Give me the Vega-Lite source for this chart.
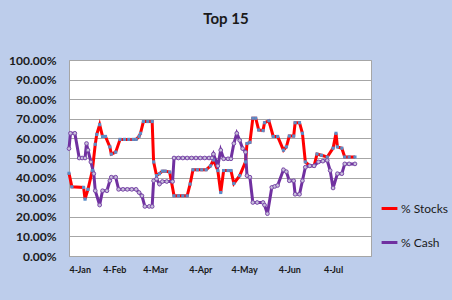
{
  "$schema": "https://vega.github.io/schema/vega-lite/v6.json",
  "width": 302,
  "height": 196,
  "autosize": "none",
  "padding": {"left": 69, "top": 60, "right": 81, "bottom": 44},
  "background": "#bdcdeb",
  "title": {"text": "Top 15", "fontSize": 15, "font": "Lato", "fontWeight": "bold", "color": "#1a1a1a", "anchor": "middle", "dx": 6, "offset": 27, "frame": "group"},
  "config": {
    "view": {"fill": "white", "stroke": "#a6a6a6", "strokeWidth": 1},
    "axis": {"labelFont": "Lato", "labelFontWeight": "bold", "labelColor": "#1a1a1a", "ticks": false, "domainColor": "#a6a6a6", "gridColor": "#a6a6a6", "title": null}
  },
  "data": {"values": [
    {"date": "2010-01-04", "series": "% Stocks", "value": 0.422},
    {"date": "2010-01-06", "series": "% Stocks", "value": 0.353},
    {"date": "2010-01-14", "series": "% Stocks", "value": 0.35},
    {"date": "2010-01-15", "series": "% Stocks", "value": 0.29},
    {"date": "2010-01-17", "series": "% Stocks", "value": 0.34},
    {"date": "2010-01-20", "series": "% Stocks", "value": 0.436},
    {"date": "2010-01-22", "series": "% Stocks", "value": 0.57},
    {"date": "2010-01-23", "series": "% Stocks", "value": 0.62},
    {"date": "2010-01-25", "series": "% Stocks", "value": 0.67},
    {"date": "2010-01-27", "series": "% Stocks", "value": 0.61},
    {"date": "2010-01-29", "series": "% Stocks", "value": 0.61},
    {"date": "2010-02-01", "series": "% Stocks", "value": 0.557},
    {"date": "2010-02-02", "series": "% Stocks", "value": 0.52},
    {"date": "2010-02-05", "series": "% Stocks", "value": 0.53},
    {"date": "2010-02-08", "series": "% Stocks", "value": 0.595},
    {"date": "2010-02-11", "series": "% Stocks", "value": 0.595},
    {"date": "2010-02-14", "series": "% Stocks", "value": 0.595},
    {"date": "2010-02-17", "series": "% Stocks", "value": 0.595},
    {"date": "2010-02-19", "series": "% Stocks", "value": 0.595},
    {"date": "2010-02-21", "series": "% Stocks", "value": 0.61},
    {"date": "2010-02-22", "series": "% Stocks", "value": 0.626},
    {"date": "2010-02-24", "series": "% Stocks", "value": 0.686},
    {"date": "2010-02-27", "series": "% Stocks", "value": 0.686},
    {"date": "2010-03-02", "series": "% Stocks", "value": 0.686},
    {"date": "2010-03-03", "series": "% Stocks", "value": 0.48},
    {"date": "2010-03-05", "series": "% Stocks", "value": 0.41},
    {"date": "2010-03-07", "series": "% Stocks", "value": 0.42},
    {"date": "2010-03-09", "series": "% Stocks", "value": 0.433},
    {"date": "2010-03-11", "series": "% Stocks", "value": 0.433},
    {"date": "2010-03-14", "series": "% Stocks", "value": 0.428},
    {"date": "2010-03-17", "series": "% Stocks", "value": 0.307},
    {"date": "2010-03-20", "series": "% Stocks", "value": 0.307},
    {"date": "2010-03-23", "series": "% Stocks", "value": 0.307},
    {"date": "2010-03-26", "series": "% Stocks", "value": 0.307},
    {"date": "2010-03-28", "series": "% Stocks", "value": 0.367},
    {"date": "2010-03-30", "series": "% Stocks", "value": 0.44},
    {"date": "2010-04-02", "series": "% Stocks", "value": 0.44},
    {"date": "2010-04-05", "series": "% Stocks", "value": 0.44},
    {"date": "2010-04-08", "series": "% Stocks", "value": 0.44},
    {"date": "2010-04-11", "series": "% Stocks", "value": 0.46},
    {"date": "2010-04-13", "series": "% Stocks", "value": 0.49},
    {"date": "2010-04-16", "series": "% Stocks", "value": 0.436},
    {"date": "2010-04-18", "series": "% Stocks", "value": 0.324},
    {"date": "2010-04-20", "series": "% Stocks", "value": 0.436},
    {"date": "2010-04-23", "series": "% Stocks", "value": 0.436},
    {"date": "2010-04-25", "series": "% Stocks", "value": 0.436},
    {"date": "2010-04-27", "series": "% Stocks", "value": 0.37},
    {"date": "2010-05-01", "series": "% Stocks", "value": 0.41},
    {"date": "2010-05-05", "series": "% Stocks", "value": 0.48},
    {"date": "2010-05-06", "series": "% Stocks", "value": 0.574},
    {"date": "2010-05-08", "series": "% Stocks", "value": 0.58},
    {"date": "2010-05-10", "series": "% Stocks", "value": 0.703},
    {"date": "2010-05-12", "series": "% Stocks", "value": 0.703},
    {"date": "2010-05-14", "series": "% Stocks", "value": 0.643},
    {"date": "2010-05-17", "series": "% Stocks", "value": 0.64},
    {"date": "2010-05-18", "series": "% Stocks", "value": 0.68},
    {"date": "2010-05-21", "series": "% Stocks", "value": 0.69},
    {"date": "2010-05-24", "series": "% Stocks", "value": 0.61},
    {"date": "2010-05-27", "series": "% Stocks", "value": 0.61},
    {"date": "2010-05-31", "series": "% Stocks", "value": 0.54},
    {"date": "2010-06-02", "series": "% Stocks", "value": 0.557},
    {"date": "2010-06-04", "series": "% Stocks", "value": 0.612},
    {"date": "2010-06-07", "series": "% Stocks", "value": 0.612},
    {"date": "2010-06-08", "series": "% Stocks", "value": 0.68},
    {"date": "2010-06-11", "series": "% Stocks", "value": 0.68},
    {"date": "2010-06-13", "series": "% Stocks", "value": 0.626},
    {"date": "2010-06-15", "series": "% Stocks", "value": 0.48},
    {"date": "2010-06-18", "series": "% Stocks", "value": 0.46},
    {"date": "2010-06-21", "series": "% Stocks", "value": 0.46},
    {"date": "2010-06-23", "series": "% Stocks", "value": 0.52},
    {"date": "2010-06-26", "series": "% Stocks", "value": 0.514},
    {"date": "2010-06-30", "series": "% Stocks", "value": 0.505},
    {"date": "2010-07-04", "series": "% Stocks", "value": 0.55},
    {"date": "2010-07-06", "series": "% Stocks", "value": 0.626},
    {"date": "2010-07-07", "series": "% Stocks", "value": 0.557},
    {"date": "2010-07-10", "series": "% Stocks", "value": 0.55},
    {"date": "2010-07-12", "series": "% Stocks", "value": 0.505},
    {"date": "2010-07-15", "series": "% Stocks", "value": 0.505},
    {"date": "2010-07-19", "series": "% Stocks", "value": 0.505},

    {"date": "2010-01-04", "series": "% Cash", "value": 0.548},
    {"date": "2010-01-05", "series": "% Cash", "value": 0.626},
    {"date": "2010-01-08", "series": "% Cash", "value": 0.626},
    {"date": "2010-01-11", "series": "% Cash", "value": 0.50},
    {"date": "2010-01-13", "series": "% Cash", "value": 0.50},
    {"date": "2010-01-15", "series": "% Cash", "value": 0.50},
    {"date": "2010-01-16", "series": "% Cash", "value": 0.574},
    {"date": "2010-01-17", "series": "% Cash", "value": 0.54},
    {"date": "2010-01-19", "series": "% Cash", "value": 0.48},
    {"date": "2010-01-21", "series": "% Cash", "value": 0.42},
    {"date": "2010-01-22", "series": "% Cash", "value": 0.333},
    {"date": "2010-01-25", "series": "% Cash", "value": 0.26},
    {"date": "2010-01-27", "series": "% Cash", "value": 0.333},
    {"date": "2010-01-30", "series": "% Cash", "value": 0.333},
    {"date": "2010-02-01", "series": "% Cash", "value": 0.384},
    {"date": "2010-02-02", "series": "% Cash", "value": 0.402},
    {"date": "2010-02-05", "series": "% Cash", "value": 0.402},
    {"date": "2010-02-07", "series": "% Cash", "value": 0.34},
    {"date": "2010-02-10", "series": "% Cash", "value": 0.34},
    {"date": "2010-02-13", "series": "% Cash", "value": 0.34},
    {"date": "2010-02-16", "series": "% Cash", "value": 0.34},
    {"date": "2010-02-19", "series": "% Cash", "value": 0.34},
    {"date": "2010-02-21", "series": "% Cash", "value": 0.324},
    {"date": "2010-02-23", "series": "% Cash", "value": 0.307},
    {"date": "2010-02-25", "series": "% Cash", "value": 0.253},
    {"date": "2010-02-28", "series": "% Cash", "value": 0.253},
    {"date": "2010-03-02", "series": "% Cash", "value": 0.253},
    {"date": "2010-03-03", "series": "% Cash", "value": 0.384},
    {"date": "2010-03-05", "series": "% Cash", "value": 0.393},
    {"date": "2010-03-07", "series": "% Cash", "value": 0.367},
    {"date": "2010-03-09", "series": "% Cash", "value": 0.38},
    {"date": "2010-03-12", "series": "% Cash", "value": 0.38},
    {"date": "2010-03-16", "series": "% Cash", "value": 0.38},
    {"date": "2010-03-17", "series": "% Cash", "value": 0.50},
    {"date": "2010-03-20", "series": "% Cash", "value": 0.50},
    {"date": "2010-03-23", "series": "% Cash", "value": 0.50},
    {"date": "2010-03-26", "series": "% Cash", "value": 0.50},
    {"date": "2010-03-29", "series": "% Cash", "value": 0.50},
    {"date": "2010-04-01", "series": "% Cash", "value": 0.50},
    {"date": "2010-04-04", "series": "% Cash", "value": 0.50},
    {"date": "2010-04-07", "series": "% Cash", "value": 0.50},
    {"date": "2010-04-10", "series": "% Cash", "value": 0.50},
    {"date": "2010-04-12", "series": "% Cash", "value": 0.50},
    {"date": "2010-04-13", "series": "% Cash", "value": 0.52},
    {"date": "2010-04-16", "series": "% Cash", "value": 0.46},
    {"date": "2010-04-18", "series": "% Cash", "value": 0.54},
    {"date": "2010-04-20", "series": "% Cash", "value": 0.496},
    {"date": "2010-04-23", "series": "% Cash", "value": 0.496},
    {"date": "2010-04-25", "series": "% Cash", "value": 0.496},
    {"date": "2010-04-27", "series": "% Cash", "value": 0.574},
    {"date": "2010-04-29", "series": "% Cash", "value": 0.626},
    {"date": "2010-05-01", "series": "% Cash", "value": 0.59},
    {"date": "2010-05-03", "series": "% Cash", "value": 0.548},
    {"date": "2010-05-05", "series": "% Cash", "value": 0.53},
    {"date": "2010-05-06", "series": "% Cash", "value": 0.41},
    {"date": "2010-05-08", "series": "% Cash", "value": 0.402},
    {"date": "2010-05-10", "series": "% Cash", "value": 0.273},
    {"date": "2010-05-13", "series": "% Cash", "value": 0.273},
    {"date": "2010-05-17", "series": "% Cash", "value": 0.273},
    {"date": "2010-05-18", "series": "% Cash", "value": 0.26},
    {"date": "2010-05-20", "series": "% Cash", "value": 0.216},
    {"date": "2010-05-23", "series": "% Cash", "value": 0.35},
    {"date": "2010-05-25", "series": "% Cash", "value": 0.355},
    {"date": "2010-05-27", "series": "% Cash", "value": 0.36},
    {"date": "2010-05-31", "series": "% Cash", "value": 0.44},
    {"date": "2010-06-02", "series": "% Cash", "value": 0.43},
    {"date": "2010-06-04", "series": "% Cash", "value": 0.384},
    {"date": "2010-06-07", "series": "% Cash", "value": 0.384},
    {"date": "2010-06-08", "series": "% Cash", "value": 0.315},
    {"date": "2010-06-11", "series": "% Cash", "value": 0.315},
    {"date": "2010-06-13", "series": "% Cash", "value": 0.384},
    {"date": "2010-06-15", "series": "% Cash", "value": 0.453},
    {"date": "2010-06-18", "series": "% Cash", "value": 0.46},
    {"date": "2010-06-21", "series": "% Cash", "value": 0.46},
    {"date": "2010-06-24", "series": "% Cash", "value": 0.48},
    {"date": "2010-06-27", "series": "% Cash", "value": 0.484},
    {"date": "2010-06-30", "series": "% Cash", "value": 0.488},
    {"date": "2010-07-02", "series": "% Cash", "value": 0.436},
    {"date": "2010-07-04", "series": "% Cash", "value": 0.347},
    {"date": "2010-07-07", "series": "% Cash", "value": 0.42},
    {"date": "2010-07-10", "series": "% Cash", "value": 0.42},
    {"date": "2010-07-12", "series": "% Cash", "value": 0.47},
    {"date": "2010-07-15", "series": "% Cash", "value": 0.47},
    {"date": "2010-07-19", "series": "% Cash", "value": 0.47}
  ]},
  "encoding": {
    "x": {"field": "date", "type": "temporal",
      "scale": {"type": "utc", "domain": [{"year": 2010, "month": 1, "date": 4, "utc": true}, {"year": 2010, "month": 7, "date": 30, "utc": true}]},
      "axis": {"values": [
        {"year": 2010, "month": 1, "date": 4, "utc": true},
        {"year": 2010, "month": 2, "date": 4, "utc": true},
        {"year": 2010, "month": 3, "date": 4, "utc": true},
        {"year": 2010, "month": 4, "date": 4, "utc": true},
        {"year": 2010, "month": 5, "date": 4, "utc": true},
        {"year": 2010, "month": 6, "date": 4, "utc": true},
        {"year": 2010, "month": 7, "date": 4, "utc": true}],
        "labelExpr": "utcFormat(datum.value, '%-d-%b')", "grid": false, "labelFontSize": 9, "labelPadding": 9, "labelAngle": 0}},
    "y": {"field": "value", "type": "quantitative",
      "scale": {"domain": [0, 1], "nice": false},
      "axis": {"values": [0, 0.1, 0.2, 0.3, 0.4, 0.5, 0.6, 0.7, 0.8, 0.9, 1], "format": ".2%", "labelFontSize": 12, "labelPadding": 13, "domain": false}}
  },
  "layer": [
    {
      "mark": {"type": "line", "strokeWidth": 3},
      "encoding": {
        "color": {"field": "series", "type": "nominal",
          "scale": {"domain": ["% Stocks", "% Cash"], "range": ["#ff0000", "#7030a0"]},
          "legend": {"orient": "none", "legendX": 311, "legendY": 139, "title": null, "symbolType": "stroke", "symbolStrokeWidth": 3, "symbolSize": 250, "labelFont": "Lato", "labelFontSize": 12, "labelColor": "#1a1a1a", "rowPadding": 18, "labelOffset": 2}
        }
      }
    },
    {
      "transform": [{"filter": "datum.series === '% Stocks'"}],
      "mark": {"type": "point", "shape": "square", "filled": true, "size": 10, "color": "#5b8dc8", "opacity": 1},
      "encoding": {}
    },
    {
      "transform": [{"filter": "datum.series === '% Cash'"}],
      "mark": {"type": "point", "shape": "circle", "filled": true, "size": 14, "fill": "#c9c0dc", "stroke": "#7a4aa8", "strokeWidth": 1, "opacity": 1},
      "encoding": {}
    }
  ]
}
